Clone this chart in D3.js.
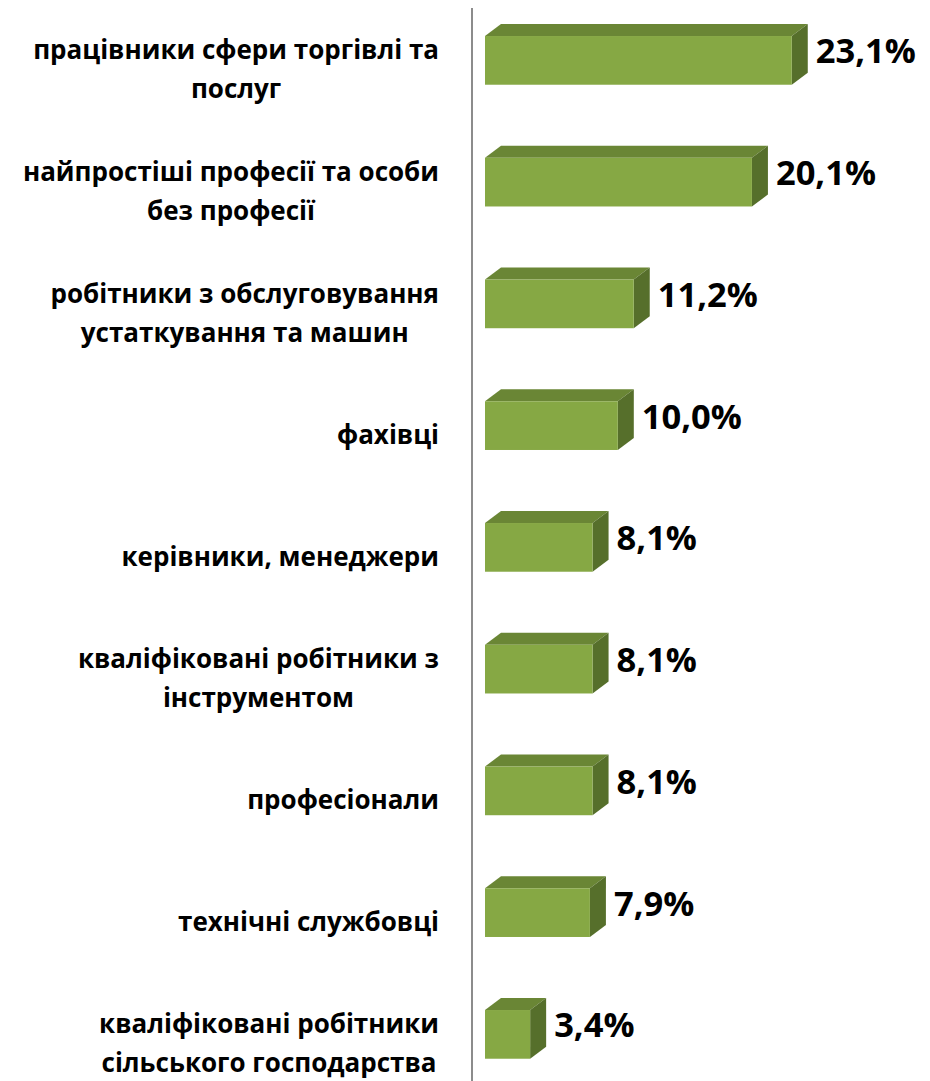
<!DOCTYPE html>
<html><head><meta charset="utf-8">
<script src="https://cdn.jsdelivr.net/npm/d3@7/dist/d3.min.js"></script>
<style>body{margin:0;background:#fff}svg{display:block}</style>
</head><body>
<svg id="c" width="930" height="1081"></svg>
<script>
const categories = [
  ["працівники сфери торгівлі та", "послуг"],
  ["найпростіші професії та особи", "без професії"],
  ["робітники з обслуговування", "устаткування та машин"],
  ["фахівці"],
  ["керівники, менеджери"],
  ["кваліфіковані робітники з", "інструментом"],
  ["професіонали"],
  ["технічні службовці"],
  ["кваліфіковані робітники", "сільського господарства"]
];
const values = [23.1, 20.1, 11.2, 10.0, 8.1, 8.1, 8.1, 7.9, 3.4];
const valueLabels = ["23,1%", "20,1%", "11,2%", "10,0%", "8,1%", "8,1%", "8,1%", "7,9%", "3,4%"];

const svg = d3.select("#c");
const keys = categories.map((c, i) => i);
const y = d3.scaleBand().domain(keys).range([-0.5, 1095.25]).paddingInner(0.6).paddingOuter(0.3);
const x = d3.scaleLinear().domain([0, 25]).range([485, 485 + 25 * 13.28]);
const dx = 16, dy = 12;

// axis line
svg.append("line").attr("x1", 472).attr("x2", 472).attr("y1", 8).attr("y2", 1081)
  .attr("stroke", "#8c8c8c").attr("stroke-width", 2);

const g = svg.selectAll("g.bar").data(values).join("g").attr("class", "bar");
g.each(function(v, i) {
  const sel = d3.select(this);
  const x0 = x(0), x1 = x(v), y0 = y(i), y1 = y(i) + y.bandwidth();
  sel.append("path").attr("d", `M${x0},${y0}L${x0 + dx},${y0 - dy}L${x1 + dx},${y0 - dy}L${x1},${y0}Z`)
    .attr("fill", "#6a8635");
  sel.append("path").attr("d", `M${x1},${y0}L${x1 + dx},${y0 - dy}L${x1 + dx},${y1 - dy}L${x1},${y1}Z`)
    .attr("fill", "#566f2b");
  sel.append("rect").attr("x", x0).attr("y", y0).attr("width", x1 - x0).attr("height", y1 - y0)
    .attr("fill", "#86a844");
  sel.append("text").attr("x", x1 + dx + 8).attr("y", (y0 + y1) / 2 + 3)
    .attr("font-family", "'Open Sans', sans-serif").attr("font-weight", 700)
    .attr("font-size", 34.5).attr("fill", "#000").text(valueLabels[i]);
});

// category labels
const lh = 39;
categories.forEach((lines, i) => {
  const cy = y(i) + y.bandwidth() / 2 + 12;
  const t = svg.append("text").attr("text-anchor", "middle")
    .attr("font-family", "'Open Sans', sans-serif").attr("font-weight", 700)
    .attr("font-size", 26).attr("fill", "#000");
  lines.forEach((ln, j) => {
    t.append("tspan").attr("x", 0).attr("y", cy + (j - (lines.length - 1) / 2) * lh + 6.5).text(ln);
  });
  const w = d3.max(t.selectAll("tspan").nodes(), n => n.getComputedTextLength());
  t.selectAll("tspan").attr("x", 439 - w / 2);
});
</script>
</body></html>
